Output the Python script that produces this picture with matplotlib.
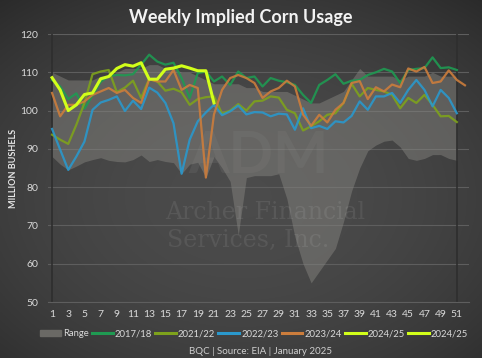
import numpy as np
import matplotlib.pyplot as plt
from matplotlib.patches import Patch
from matplotlib.lines import Line2D

plt.rcParams['font.family'] = ['Lato', 'DejaVu Sans']

# Weekly implied corn usage, million bushels
weeks_51 = np.arange(1, 52)
weeks_52 = np.arange(1, 53)
weeks_2425 = np.arange(1, 22)

range_low = [88, 86, 84.5, 85.5, 86.6, 87.2, 87.7, 87, 86.7, 86.6, 87.2, 88.4, 86.7, 87.2, 86.7, 86.4, 83.5,
             86, 86.5, 82.5, 88, 85, 81.5, 67.5, 82.5, 83, 83, 83, 83.5, 77, 67, 60, 55, 58, 61, 64, 71,
             79, 85, 89.5, 91, 92, 92.3, 90.5, 87.5, 87, 87.5, 88.5, 88.5, 87.5, 87]
range_high = [110, 109, 108, 108, 108, 108, 109, 109, 110, 111, 111, 111, 112, 112, 111, 111, 110, 110, 109,
              108, 107, 107, 107, 107, 106, 106, 105, 105, 105, 105, 104, 103, 102, 102, 103, 104, 105,
              108, 111, 109, 109, 109, 109, 108, 109, 109, 109, 110, 109, 109, 109]

y1718 = [108, 106.3, 103, 104.5, 100.5, 104, 107.5, 109, 109.3, 109.2, 109.5, 112, 114.6, 112.8, 112, 112.5,
         108.5, 103.3, 109.8, 110.2, 107.6, 108.9, 106.7, 110.2, 108.5, 108.9, 106.3, 108.5, 107.8, 107.4,
         106.7, 104.1, 102, 106.7, 108, 109.5, 107, 107.8, 108, 109.3, 110, 110.9, 110.2, 107.2, 110.6,
         110.9, 111.1, 113.9, 111.1, 111.3, 110.6]
y2122 = [93.7, 92.4, 91.3, 96.3, 102, 109.5, 110.2, 110.6, 104.8, 106, 107.8, 103.3, 108.3, 107.6, 105.2,
         105.7, 104.8, 101.5, 103, 103.5, 103.7, 99.2, 100, 101.7, 100, 102.4, 102.6, 103.7, 103.4, 100.2,
         99.3, 94.8, 95.9, 97.2, 98.9, 99.3, 102, 107, 103.7, 105.9, 105.4, 105, 104.1, 100.6, 103.3, 102,
         104.1, 101.5, 98.5, 98.6, 97]
y2223 = [95.2, 89.8, 84.5, 88, 91.9, 100.2, 102.1, 102.8, 103.7, 99.9, 102.6, 100.4, 106, 104.7, 102, 96.7,
         83.5, 92.4, 97.2, 99.5, 101.5, 98.8, 99.8, 101.3, 99, 99.6, 99.5, 98.5, 99.2, 99, 95, 100.6, 95.4,
         96, 95.2, 97.2, 96.9, 98.6, 102.4, 100.2, 103.7, 103.7, 104.6, 102, 105.4, 108, 105.4, 101.1,
         105.4, 103.3, 99.3]
y2324 = [104.6, 98.5, 101.5, 101.5, 102.4, 104.1, 105, 105.9, 104.6, 105.4, 103.3, 102, 108.2, 107.6, 107.6,
         110.6, 105.4, 106.7, 105.9, 82.5, 99, 105.4, 108.5, 109.3, 108.5, 107.2, 103.3, 105, 105.9, 107.8,
         106.3, 99, 96, 98.9, 96.9, 100.2, 102, 107.2, 107.7, 103, 106.1, 105, 106.8, 106.1, 111, 110.2,
         111.4, 107.2, 107.6, 110.5, 108, 106.6]
y2425 = [108.6, 105.4, 100, 101.5, 104.2, 104.6, 108.3, 108.9, 111, 112, 111.6, 112.5, 108.2, 108.2, 110.8,
         111.1, 111.7, 111.1, 110.4, 110.4, 102]

x_ticks = np.arange(1, 52, 2)
y_ticks = np.arange(50, 121, 10)

fig = plt.figure(figsize=(4.82, 3.58), dpi=100)

# background: dark radial gradient
bg = fig.add_axes([0, 0, 1, 1], zorder=-10)
gx, gy = np.meshgrid(np.linspace(-1, 1, 300), np.linspace(-1, 1, 300))
r = np.sqrt((gx * 0.85) ** 2 + ((gy + 0.1) * 0.9) ** 2)
shade = np.clip(0.295 - 0.075 * r ** 2, 0.16, 0.30)
bg.imshow(np.dstack([shade, shade, shade]), extent=[0, 1, 0, 1], aspect='auto', origin='lower')
bg.axis('off')

ax = fig.add_axes([0.0996, 0.1564, 0.8734, 0.7486])
ax.set_facecolor('none')

# watermark
ax.text(26.5, 88, 'ADM', ha='center', va='center', fontsize=42, fontweight='bold', color='white',
        alpha=0.06, zorder=1)
ax.text(27.3, 73.3, 'Archer Financial', ha='center', va='center', fontsize=17, family='DejaVu Serif',
        color='white', alpha=0.08, zorder=6)
ax.text(25.2, 66.2, 'Services, Inc.', ha='center', va='center', fontsize=17, family='DejaVu Serif',
        color='white', alpha=0.08, zorder=6)

ax.fill_between(weeks_51, range_low, range_high, color='#8a8984', alpha=0.45, lw=0, zorder=2)
ax.axvline(1, color='#2e2e2e', lw=1.2, zorder=2)
ax.axvline(51, color='#2e2e2e', lw=1.2, zorder=2)

lw = 1.6
ax.plot(weeks_51, y1718, color='#1f9a52', lw=lw, alpha=0.9, zorder=3)
ax.plot(weeks_51, y2122, color='#7ea21c', lw=lw, alpha=0.9, zorder=3)
ax.plot(weeks_51, y2223, color='#2a98cc', lw=lw, alpha=0.9, zorder=3)
ax.plot(weeks_52, y2324, color='#cc7d3c', lw=lw, alpha=0.9, zorder=3)
ax.plot(weeks_2425, y2425, color='#d2ff1a', lw=2.2, zorder=4)

ax.set_xlim(0.5, 52.5)
ax.set_ylim(50, 120)
ax.set_xticks(x_ticks)
ax.set_yticks(y_ticks)
ax.grid(axis='y', color='#5e5e5e', lw=0.8, zorder=0)
ax.set_axisbelow(True)
for s in ['top', 'right', 'left']:
    ax.spines[s].set_visible(False)
ax.spines['bottom'].set_color('#5e5e5e')
ax.tick_params(length=0, colors='#d9d9d9', labelsize=7.5)
ax.tick_params(axis='y', pad=7)
ax.tick_params(axis='x', pad=6)
ax.set_ylabel('MILLION BUSHELS', color='#e6e6e6', fontsize=6.5, fontweight='bold', labelpad=2)

fig.text(0.5, 0.952, 'Weekly Implied Corn Usage', ha='center', va='center', color='#f2f2f2',
         fontsize=13, fontweight='bold')

handles = [Patch(color='#6a6965', label='Range'),
           Line2D([], [], color='#1f9a52', lw=2.2, label='2017/18'),
           Line2D([], [], color='#7ea21c', lw=2.2, label='2021/22'),
           Line2D([], [], color='#2a98cc', lw=2.2, label='2022/23'),
           Line2D([], [], color='#cc7d3c', lw=2.2, label='2023/24'),
           Line2D([], [], color='#d2ff1a', lw=2.2, label='2024/25'),
           Line2D([], [], color='#d2ff1a', lw=2.2, label='2024/25')]
leg = fig.legend(handles=handles, loc='center', bbox_to_anchor=(0.527, 0.068), ncol=7, frameon=False,
                 fontsize=6.8, handlelength=2.2, handletextpad=0.2, columnspacing=0.35)
for t in leg.get_texts():
    t.set_color('#d9d9d9')

fig.text(0.54, 0.018, 'BQC | Source: EIA | January 2025', ha='center', va='center', color='#cfcfcf',
         fontsize=7)

fig.savefig('out.png', dpi=100)
